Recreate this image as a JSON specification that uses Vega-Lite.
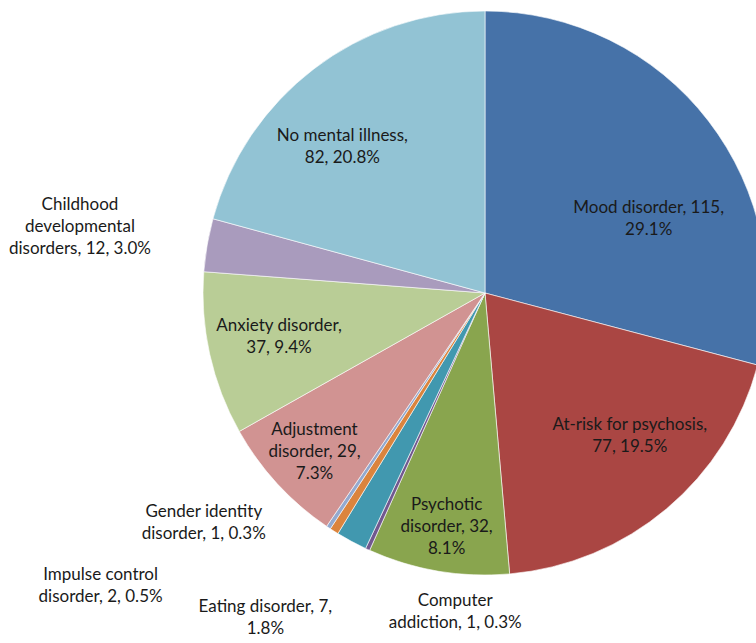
{
  "$schema": "https://vega.github.io/schema/vega-lite/v6.json",
  "width": 542,
  "height": 586,
  "autosize": {"type": "none"},
  "padding": {"left": 214, "top": 0, "right": 0, "bottom": 57},
  "background": "white",
  "config": {
    "view": {"stroke": null},
    "text": {"font": "Lato", "fontSize": 17, "lineBreak": "\n", "lineHeight": 22, "align": "center", "baseline": "middle", "color": "#1a1a1a"}
  },
  "data": {
    "values": [
      {"idx": 1, "cat": "Mood disorder", "n": 115, "label": "Mood disorder, 115,\n29.1%"},
      {"idx": 2, "cat": "At-risk for psychosis", "n": 77, "label": "At-risk for psychosis,\n77, 19.5%"},
      {"idx": 3, "cat": "Psychotic disorder", "n": 32, "label": "Psychotic\ndisorder, 32,\n8.1%"},
      {"idx": 4, "cat": "Computer addiction", "n": 1, "label": "Computer\naddiction, 1, 0.3%"},
      {"idx": 5, "cat": "Eating disorder", "n": 7, "label": "Eating disorder, 7,\n1.8%"},
      {"idx": 6, "cat": "Impulse control disorder", "n": 2, "label": "Impulse control\ndisorder, 2, 0.5%"},
      {"idx": 7, "cat": "Gender identity disorder", "n": 1, "label": "Gender identity\ndisorder, 1, 0.3%"},
      {"idx": 8, "cat": "Adjustment disorder", "n": 29, "label": "Adjustment\ndisorder, 29,\n7.3%"},
      {"idx": 9, "cat": "Anxiety disorder", "n": 37, "label": "Anxiety disorder,\n37, 9.4%"},
      {"idx": 10, "cat": "Childhood developmental disorders", "n": 12, "label": "Childhood\ndevelopmental\ndisorders, 12, 3.0%"},
      {"idx": 11, "cat": "No mental illness", "n": 82, "label": "No mental illness,\n82, 20.8%"}
    ]
  },
  "encoding": {
    "theta": {"field": "n", "type": "quantitative", "stack": true},
    "order": {"field": "idx", "type": "quantitative"}
  },
  "layer": [
    {
      "mark": {"type": "arc", "outerRadius": 282, "stroke": "white", "strokeWidth": 0.6},
      "encoding": {
        "color": {
          "field": "cat",
          "type": "nominal",
          "legend": null,
          "scale": {
            "domain": ["Mood disorder", "At-risk for psychosis", "Psychotic disorder", "Computer addiction", "Eating disorder", "Impulse control disorder", "Gender identity disorder", "Adjustment disorder", "Anxiety disorder", "Childhood developmental disorders", "No mental illness"],
            "range": ["#4672A8", "#AA4643", "#89A54E", "#71588F", "#4198AF", "#DB843D", "#93A9CF", "#D19392", "#B9CD96", "#A99BBD", "#92C3D4"]
          }
        }
      }
    },
    {
      "mark": {"type": "text", "radius": 175, "dx": 25, "dy": 22},
      "encoding": {"text": {"condition": {"test": "datum.cat === 'Mood disorder'", "field": "label", "type": "nominal"}, "value": ""}}
    },
    {
      "mark": {"type": "text", "radius": 203, "dx": 14, "dy": -23},
      "encoding": {"text": {"condition": {"test": "datum.cat === 'At-risk for psychosis'", "field": "label", "type": "nominal"}, "value": ""}}
    },
    {
      "mark": {"type": "text", "radius": 237, "dx": 1, "dy": -22},
      "encoding": {"text": {"condition": {"test": "datum.cat === 'Psychotic disorder'", "field": "label", "type": "nominal"}, "value": ""}}
    },
    {
      "mark": {"type": "text", "radius": 302, "dx": 96, "dy": 33},
      "encoding": {"text": {"condition": {"test": "datum.cat === 'Computer addiction'", "field": "label", "type": "nominal"}, "value": ""}}
    },
    {
      "mark": {"type": "text", "radius": 390, "dx": -35, "dy": -30},
      "encoding": {"text": {"condition": {"test": "datum.cat === 'Eating disorder'", "field": "label", "type": "nominal"}, "value": ""}}
    },
    {
      "mark": {"type": "text", "radius": 453, "dx": -142, "dy": -101},
      "encoding": {"text": {"condition": {"test": "datum.cat === 'Impulse control disorder'", "field": "label", "type": "nominal"}, "value": ""}}
    },
    {
      "mark": {"type": "text", "radius": 348, "dx": -88, "dy": -70},
      "encoding": {"text": {"condition": {"test": "datum.cat === 'Gender identity disorder'", "field": "label", "type": "nominal"}, "value": ""}}
    },
    {
      "mark": {"type": "text", "radius": 233, "dx": 1, "dy": -21},
      "encoding": {"text": {"condition": {"test": "datum.cat === 'Adjustment disorder'", "field": "label", "type": "nominal"}, "value": ""}}
    },
    {
      "mark": {"type": "text", "radius": 210, "dx": -1, "dy": -13},
      "encoding": {"text": {"condition": {"test": "datum.cat === 'Anxiety disorder'", "field": "label", "type": "nominal"}, "value": ""}}
    },
    {
      "mark": {"type": "text", "radius": 410, "dx": -1, "dy": -18},
      "encoding": {"text": {"condition": {"test": "datum.cat === 'Childhood developmental disorders'", "field": "label", "type": "nominal"}, "value": ""}}
    },
    {
      "mark": {"type": "text", "radius": 202, "dx": -20, "dy": 4},
      "encoding": {"text": {"condition": {"test": "datum.cat === 'No mental illness'", "field": "label", "type": "nominal"}, "value": ""}}
    }
  ]
}
